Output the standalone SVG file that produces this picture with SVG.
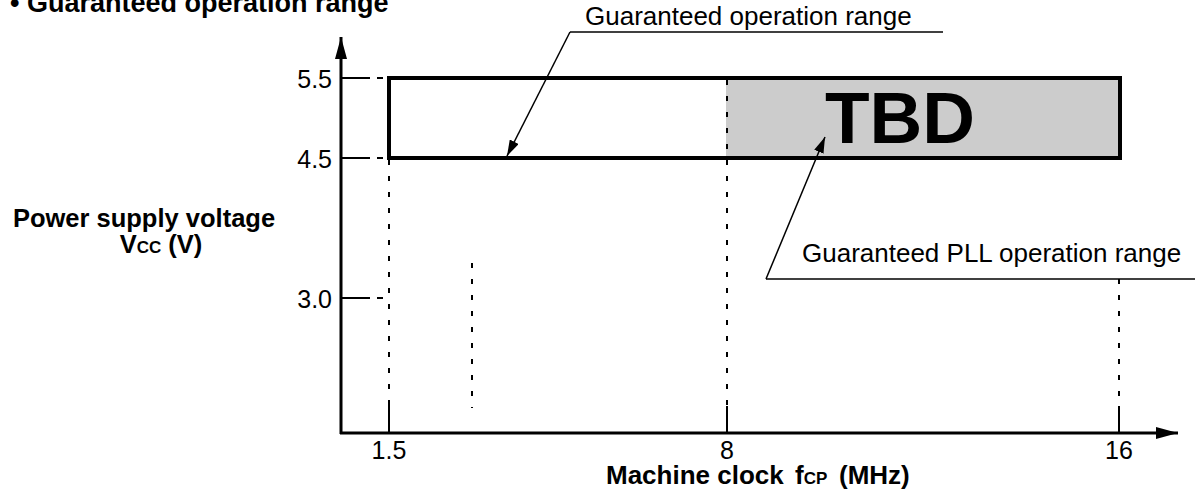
<svg xmlns="http://www.w3.org/2000/svg" width="1195" height="500" viewBox="0 0 1195 500">
<style>
text{font-family:"Liberation Sans",Arial,sans-serif;fill:#000}
.b{font-weight:bold}
.axis{stroke:#000;stroke-width:3;fill:none}
.dash{stroke:#000;stroke-width:2;stroke-dasharray:5 11;fill:none}
.thin{stroke:#000;stroke-width:2;fill:none}
.lead{stroke:#000;stroke-width:1.5;fill:none}
</style>
<defs>
<marker id="la" viewBox="0 0 16 10" refX="16" refY="5" markerWidth="16" markerHeight="10" markerUnits="userSpaceOnUse" orient="auto"><path d="M0,0 L16,5 L0,10 Z" fill="#000"/></marker>
<marker id="ax" viewBox="0 0 22 12" refX="22" refY="6" markerWidth="22" markerHeight="12" markerUnits="userSpaceOnUse" orient="auto"><path d="M0,0 L22,6 L0,12 Z" fill="#000"/></marker>
</defs>
<text class="b" x="10" y="12" font-size="27">• Guaranteed operation range</text>
<g id="axes">
<line class="axis" x1="341" y1="434" x2="341" y2="37" marker-end="url(#ax)"/>
<line class="axis" x1="340" y1="433" x2="1178" y2="433" marker-end="url(#ax)"/>
<text x="332" y="88" font-size="25" text-anchor="end">5.5</text>
<text x="332" y="168" font-size="25" text-anchor="end">4.5</text>
<text x="332" y="308" font-size="25" text-anchor="end">3.0</text>
<line class="thin" x1="341" y1="78" x2="370" y2="78"/><line class="thin" x1="377" y1="78" x2="383" y2="78"/>
<line class="thin" x1="341" y1="158" x2="370" y2="158"/><line class="thin" x1="377" y1="158" x2="383" y2="158"/>
<line class="thin" x1="341" y1="298" x2="370" y2="298"/><line class="thin" x1="377" y1="298" x2="383" y2="298"/>
<line class="thin" x1="389" y1="404" x2="389" y2="433"/>
<line class="thin" x1="727" y1="406" x2="727" y2="433"/>
<line class="thin" x1="1119" y1="406" x2="1119" y2="433"/>
<text x="389" y="459" font-size="25" text-anchor="middle">1.5</text>
<text x="727" y="459" font-size="25" text-anchor="middle">8</text>
<text x="1119" y="459" font-size="25" text-anchor="middle">16</text>
<text class="b" x="606" y="484" font-size="26">Machine clock<tspan x="795">f<tspan font-size="17">CP</tspan></tspan><tspan x="839">(MHz)</tspan></text>
<text class="b" x="144" y="227" font-size="25.5" text-anchor="middle">Power supply voltage</text>
<text class="b" x="161" y="253" font-size="25.5" text-anchor="middle">V<tspan font-size="17">CC</tspan> (V)</text>
</g>
<g id="range">
<rect x="726" y="78" width="394" height="80" fill="#cccccc"/>
<rect x="389" y="78" width="731" height="80" fill="none" stroke="#000" stroke-width="4"/>
<text class="b" x="825" y="143" font-size="73">TBD</text>
</g>
<g id="connectors">
<line class="dash" x1="389" y1="160" x2="389" y2="404"/>
<line class="dash" x1="727" y1="80" x2="727" y2="406"/>
<line class="dash" x1="1119" y1="279" x2="1119" y2="406"/>
<line class="dash" x1="472" y1="263" x2="472" y2="408"/>
<line class="lead" x1="943" y1="32" x2="570" y2="32"/>
<line class="lead" x1="570" y1="32" x2="507" y2="156" marker-end="url(#la)"/>
<line class="lead" x1="1195" y1="279" x2="766" y2="279"/>
<line class="lead" x1="766" y1="279" x2="825" y2="137" marker-end="url(#la)"/>
</g>
<g id="labels">
<text x="585" y="25" font-size="26">Guaranteed operation range</text>
<text x="802" y="262" font-size="26">Guaranteed PLL operation range</text>
</g>
</svg>
